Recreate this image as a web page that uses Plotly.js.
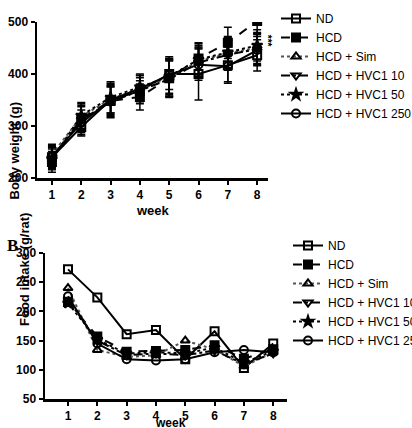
<!DOCTYPE html>
<html><head><meta charset="utf-8">
<script src="https://cdn.plot.ly/plotly-3.0.1.min.js"></script>
<style>html,body{margin:0;padding:0;background:#fff}#c{width:412px;height:428px}</style>
</head><body><div id="c"></div>
<script>
const weeks = [1,2,3,4,5,6,7,8];
const seriesNames = ["ND","HCD","HCD + Sim","HCD + HVC1 10","HCD + HVC1 50","HCD + HVC1 250"];
// Body weight (g)
const bwND   = [240, 298, 350, 367, 400, 400, 417, 436];
const bwHCD  = [231, 315, 348, 356, 392, 430, 460, 502];
const bwSim  = [245, 318, 352, 372, 392, 425, 440, 450];
const bwH10  = [238, 312, 346, 368, 390, 422, 437, 448];
const bwH50  = [236, 320, 355, 375, 395, 428, 442, 455];
const bwH250 = [242, 306, 350, 372, 398, 418, 415, 446];
const errND  = [20, 15, 25, 20, 30, 50, 35, 30];
const errOth = [20, 25, 30, 25, 35, 30, 30, 30];
// Food intake (g/rat)
const fiND   = [272, 224, 161, 168, 118, 166, 103, 145];
const fiHCD  = [216, 157, 131, 132, 134, 142, 119, 135];
const fiSim  = [240, 134, 122, 125, 150, 135, 106, 130];
const fiH10  = [220, 150, 125, 128, 125, 133, 110, 128];
const fiH50  = [214, 152, 128, 130, 128, 138, 112, 132];
const fiH250 = [226, 145, 118, 116, 118, 130, 134, 130];

const styles = [
  {symbol:"square-open", dash:"solid", color:"#000"},
  {symbol:"square", dash:"dash", color:"#000"},
  {symbol:"triangle-up-open", dash:"dot", color:"#555"},
  {symbol:"triangle-down-open", dash:"dashdot", color:"#000"},
  {symbol:"star", dash:"dot", color:"#000"},
  {symbol:"circle-open", dash:"solid", color:"#000"}
];
const bw = [bwND,bwHCD,bwSim,bwH10,bwH50,bwH250];
const fi = [fiND,fiHCD,fiSim,fiH10,fiH50,fiH250];
const F = "Arial, 'Liberation Sans', sans-serif";
const traces = [];
bw.forEach((ys,i)=>{
  traces.push({x:weeks, y:ys, name:seriesNames[i], type:"scatter", mode:"lines+markers",
    xaxis:"x", yaxis:"y", legend:"legend",
    line:{color:styles[i].color, dash:styles[i].dash, width:2},
    marker:{symbol:styles[i].symbol, size:8, color:"#000", line:{color:"#000", width:2}},
    error_y:{type:"data", array:(i===0?errND:errOth), color:"#000", thickness:1.5, width:4}
  });
});
fi.forEach((ys,i)=>{
  traces.push({x:weeks, y:ys, name:seriesNames[i], type:"scatter", mode:"lines+markers",
    xaxis:"x2", yaxis:"y2", legend:"legend2",
    line:{color:styles[i].color, dash:styles[i].dash, width:2},
    marker:{symbol:styles[i].symbol, size:8, color:"#000", line:{color:"#000", width:2}}
  });
});
const ax = {showgrid:false, zeroline:false, showline:true, linecolor:"#000", linewidth:2.5,
  ticks:"outside", ticklen:4, tickwidth:2, tickcolor:"#000", automargin:false,
  tickfont:{family:F, size:12, color:"#000", weight:"bold"}};
const layout = {
  width:412, height:428, margin:{l:0,r:0,t:0,b:0,autoexpand:false}, paper_bgcolor:"#fff", plot_bgcolor:"rgba(0,0,0,0)",
  font:{family:F, color:"#000"},
  xaxis:Object.assign({}, ax, {domain:[37/412, 268/412], range:[0.49, 8.37], tickvals:weeks, anchor:"y"}),
  yaxis:Object.assign({}, ax, {domain:[1-178/428, 1-22/428], range:[200,500], tickvals:[200,300,400,500], anchor:"x"}),
  xaxis2:Object.assign({}, ax, {domain:[45/412, 287/412], range:[0.215, 8.47], tickvals:weeks, anchor:"y2"}),
  yaxis2:Object.assign({}, ax, {domain:[1-399/428, 1-253/428], range:[50,300], tickvals:[50,100,150,200,250,300], anchor:"x2"}),
  legend:{x:276/412, y:1-4/428, xanchor:"left", yanchor:"top", bgcolor:"rgba(0,0,0,0)",
    font:{family:F, size:12, color:"#000"}, tracegroupgap:0},
  legend2:{x:288/412, y:1-231/428, xanchor:"left", yanchor:"top", bgcolor:"rgba(0,0,0,0)",
    font:{family:F, size:12, color:"#000"}, tracegroupgap:0},
  annotations:[
    {xref:"paper", yref:"paper", x:4/412, y:1-100/428, text:"Body weight (g)", textangle:-90, showarrow:false,
      font:{family:F, size:13, color:"#000", weight:"bold"}},
    {xref:"paper", yref:"paper", x:153/412, y:1-210/428, text:"week", showarrow:false,
      font:{family:F, size:13, color:"#000", weight:"bold"}},
    {xref:"paper", yref:"paper", x:15/412, y:1-328/428, text:"Food intake (g/rat)", textangle:-90, showarrow:false,
      font:{family:F, size:13, color:"#000", weight:"bold"}},
    {xref:"paper", yref:"paper", x:170/412, y:1-423/428, yanchor:"middle", text:"week", showarrow:false,
      font:{family:F, size:12, color:"#000", weight:"bold"}},
    {xref:"paper", yref:"paper", x:5/412, y:1-245/428, text:"B", showarrow:false,
      font:{family:"'Liberation Serif', serif", size:17, color:"#000", weight:"bold"}},
    {xref:"x", yref:"y", x:8, y:bwHCD[7]+38, text:"#", showarrow:false,
      font:{family:F, size:11, color:"#000", weight:"bold"}},
    {xref:"x", yref:"y", x:8.35, y:bwH50[7]+8, text:"***", textangle:90, showarrow:false,
      font:{family:F, size:10, color:"#000", weight:"bold"}}
  ]
};
Plotly.newPlot("c", traces, layout, {staticPlot:true});
</script></body></html>
